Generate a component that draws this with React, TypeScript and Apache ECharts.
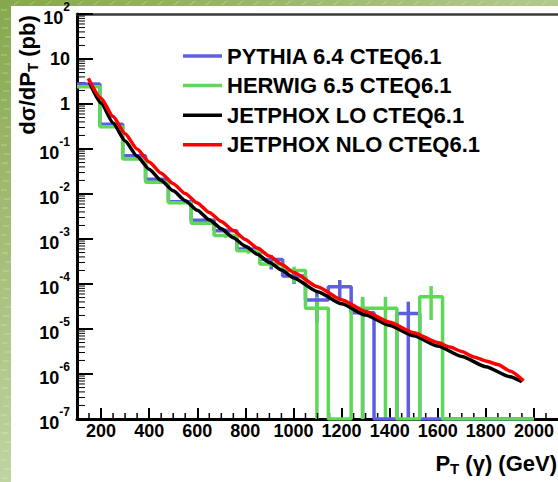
import React, { useEffect, useRef } from 'react';
import * as echarts from 'echarts';

const FONT = '"Liberation Sans", Arial, Helvetica, sans-serif';

// Histogram binning (GeV)
const binEdges = [100, 195, 290, 385, 480, 575, 670, 765, 860, 955, 1050, 1145, 1240, 1335, 1430, 1525, 1620, 1715, 1810, 1905, 2000];

// PYTHIA 6.4 CTEQ6.1 (pb/GeV)
const pythiaValues = [2.78, 0.353, 0.0711, 0.0212, 0.00676, 0.0026, 0.00153, 0.0006, 0.00035, 0.00015, 4.4e-5, 8.7e-5, 2.3e-5, 0, 2.2e-5, 0, 0, 0, 0, 0];
const pythiaErrLow = [2.66, 0.336, 0.067, 0.0199, 0.0063, 0.00238, 0.00136, 0.00051, 0.00021, 0.0001, 1.4e-5, 4.5e-5, 0, 0, 0, 0, 0, 0, 0, 0];
const pythiaErrHigh = [2.9, 0.37, 0.0752, 0.0225, 0.0072, 0.00283, 0.00171, 0.0007, 0.00044, 0.00019, 7.4e-5, 1.23e-4, 4.6e-5, 0, 4.05e-5, 0, 0, 0, 0, 0];

// HERWIG 6.5 CTEQ6.1
const herwigValues = [2.43, 0.313, 0.06, 0.0182, 0.0064, 0.00223, 0.00119, 0.00055, 0.000278, 0.0002, 2.9e-5, 0, 2.9e-5, 2.9e-5, 0, 5.2e-5, 0, 0, 0, 0];
const herwigErrLow = [2.31, 0.297, 0.0565, 0.0171, 0.0059, 0.00203, 0.00106, 0.00047, 0.00024, 0.000103, 0, 0, 0, 0, 0, 1.58e-5, 0, 0, 0, 0];
const herwigErrHigh = [2.55, 0.33, 0.0637, 0.0194, 0.0069, 0.00245, 0.00133, 0.00064, 0.00032, 0.000243, 5.2e-5, 0, 5.2e-5, 5.2e-5, 0, 9.0e-5, 0, 0, 0, 0];

// JETPHOX LO CTEQ6.1
const loPt = [152, 200, 250, 300, 350, 400, 450, 500, 550, 600, 650, 700, 750, 800, 850, 900, 950, 1000, 1100, 1200, 1300, 1400, 1500, 1600, 1700, 1800, 1900, 1950];
const loValues = [3.0, 1.047, 0.38, 0.151, 0.0692, 0.0355, 0.02, 0.01175, 0.00708, 0.00437, 0.00269, 0.0017, 0.00107, 0.000692, 0.000457, 0.000302, 0.000204, 0.000138, 6.76e-5, 3.63e-5, 2.04e-5, 1.2e-5, 7.08e-6, 4.17e-6, 2.45e-6, 1.45e-6, 8.7e-7, 6.76e-7];

// JETPHOX NLO CTEQ6.1
const nloPt = [147, 200, 250, 300, 350, 400, 450, 500, 550, 600, 650, 700, 750, 800, 850, 900, 950, 1000, 1100, 1200, 1300, 1400, 1500, 1600, 1650, 1700, 1750, 1800, 1850, 1900, 1957];
const nloValues = [3.72, 1.35, 0.525, 0.219, 0.1, 0.0513, 0.0288, 0.017, 0.0102, 0.00631, 0.00389, 0.00245, 0.00155, 0.000977, 0.000631, 0.000417, 0.000275, 0.000182, 8.7e-5, 4.47e-5, 2.45e-5, 1.41e-5, 8.3e-6, 5.0e-6, 3.98e-6, 3.16e-6, 2.4e-6, 1.95e-6, 1.62e-6, 1.17e-6, 7.1e-7];

const xTickLabels = [200, 400, 600, 800, 1000, 1200, 1400, 1600, 1800, 2000];

const X_MIN = 100;
const X_MAX = 2100;
const Y_MIN = 1e-7;
const Y_MAX = 100;

const BLUE = '#5e5ee4';
const GREEN = '#5fd858';

const seriesNames = ['PYTHIA 6.4 CTEQ6.1', 'HERWIG 6.5 CTEQ6.1', 'JETPHOX LO CTEQ6.1', 'JETPHOX NLO CTEQ6.1'];

function stepData(values: number[]) {
  const d: number[][] = [];
  values.forEach((v, i) => d.push([binEdges[i], v > 0 ? v : Y_MIN]));
  const last = values[values.length - 1];
  d.push([binEdges[binEdges.length - 1], last > 0 ? last : Y_MIN]);
  return d;
}

function errData(values: number[], lo: number[], hi: number[]) {
  const d: number[][] = [];
  values.forEach((v, i) => {
    if (v > 0) {
      d.push([(binEdges[i] + binEdges[i + 1]) / 2, lo[i] > 0 ? lo[i] : Y_MIN, hi[i]]);
    }
  });
  return d;
}

function errSeries(data: number[][], color: string) {
  return {
    type: 'custom',
    silent: true,
    data,
    encode: { x: 0, y: [1, 2] },
    renderItem: (params: any, api: any) => {
      const p1 = api.coord([api.value(0), api.value(1)]);
      const p2 = api.coord([api.value(0), api.value(2)]);
      return {
        type: 'line',
        shape: { x1: p1[0], y1: p1[1], x2: p2[0], y2: p2[1] },
        style: { stroke: color, lineWidth: 3.5 },
      };
    },
  };
}

export default function App() {
  const ref = useRef<HTMLDivElement>(null);
  useEffect(() => {
    const chart = echarts.init(ref.current!, null, { renderer: 'svg' });

    const yMinor: number[][] = [];
    for (let e = -7; e < 2; e++) {
      for (let m = 2; m <= 9; m++) yMinor.push([X_MIN, m * Math.pow(10, e)]);
    }
    const xMinor: number[][] = [];
    for (let v = 150; v < X_MAX; v += 50) {
      if (v % 200 !== 0) xMinor.push([v, Y_MIN]);
    }

    const labelStyle = { fontFamily: FONT, fontWeight: 'bold', color: '#000' };

    // faint texture dashes on the green frame (decoration)
    const texture: any[] = [];
    for (let y = 10; y < 482; y += 9) {
      texture.push({
        type: 'line',
        shape: { x1: 1 + ((y * 7) % 5), y1: y, x2: 7 + ((y * 7) % 5), y2: y },
        style: { stroke: 'rgba(255,255,255,0.35)', lineWidth: 1 },
        z: -9,
      });
    }
    for (let x = 14; x < 558; x += 16) {
      texture.push({
        type: 'line',
        shape: { x1: x, y1: 5, x2: x + 5, y2: 1 },
        style: { stroke: 'rgba(255,255,255,0.3)', lineWidth: 1 },
        z: -9,
      });
    }

    const option: any = {
      animation: false,
      backgroundColor: '#ffffff',
      grid: { left: 77, top: 14, right: -3, bottom: 63, containLabel: false },
      legend: {
        data: seriesNames,
        orient: 'vertical',
        left: 178,
        top: 39,
        icon: 'rect',
        itemWidth: 39,
        itemHeight: 3.5,
        itemGap: 5.6,
        selectedMode: false,
        textStyle: { ...labelStyle, fontSize: 22, lineHeight: 24 },
      },
      xAxis: [
        {
          type: 'value',
          min: X_MIN,
          max: X_MAX,
          axisLine: { show: true, lineStyle: { color: '#000', width: 3 } },
          axisTick: { show: true, inside: true, length: 11, lineStyle: { color: '#000', width: 2 }, customValues: xTickLabels },
          axisLabel: {
            show: true,
            customValues: xTickLabels,
            margin: 3,
            fontSize: 18,
            ...labelStyle,
            formatter: (v: number) => String(v),
          },
          splitLine: { show: false },
        },
        {
          type: 'value',
          min: X_MIN,
          max: X_MAX,
          position: 'top',
          axisLine: { show: true, lineStyle: { color: '#3a3a3a', width: 2.5 } },
          axisTick: { show: false },
          axisLabel: { show: false },
          splitLine: { show: false },
        },
      ],
      yAxis: {
        type: 'log',
        logBase: 10,
        min: Y_MIN,
        max: Y_MAX,
        interval: 1,
        splitNumber: 9,
        axisLine: { show: true, lineStyle: { color: '#000', width: 3 } },
        axisTick: { show: true, inside: true, length: 16, lineStyle: { color: '#000', width: 2 } },
        axisLabel: {
          show: true,
          margin: 7,
          showMinLabel: true,
          showMaxLabel: true,
          formatter: (v: number) => {
            const e = Math.round(Math.log10(v));
            if (e === 1) return '{p|10}';
            if (e === 0) return '{p|1}';
            return '{b|10}{s|' + e + '}';
          },
          rich: {
            b: { ...labelStyle, fontSize: 18, lineHeight: 26, verticalAlign: 'bottom' },
            s: { ...labelStyle, fontSize: 12, lineHeight: 22, verticalAlign: 'top' },
            p: { ...labelStyle, fontSize: 18, lineHeight: 18 },
          },
        },
        splitLine: { show: false },
      },
      graphic: [
        {
          type: 'rect',
          shape: { x: 0, y: 0, width: 11, height: 482 },
          style: {
            fill: new echarts.graphic.LinearGradient(0, 0, 0, 1, [
              { offset: 0, color: '#86a84d' },
              { offset: 1, color: '#c0d3a0' },
            ]),
          },
          z: -10,
        },
        {
          type: 'rect',
          shape: { x: 0, y: 0, width: 558, height: 6 },
          style: {
            fill: new echarts.graphic.LinearGradient(0, 0, 1, 0, [
              { offset: 0, color: '#86a84d' },
              { offset: 1, color: '#b2c98c' },
            ]),
          },
          z: -10,
        },
        ...texture,
        {
          type: 'text',
          x: 27,
          y: 75,
          rotation: Math.PI / 2,
          style: {
            text: '{m|dσ/dP}{t|T}{m| (pb)}',
            align: 'center',
            verticalAlign: 'middle',
            rich: {
              m: { ...labelStyle, fontSize: 22, lineHeight: 26 },
              t: { ...labelStyle, fontSize: 15, lineHeight: 15, verticalAlign: 'bottom' },
            },
          },
        },
        {
          type: 'text',
          x: 557,
          y: 463,
          style: {
            text: '{m|P}{t|T}{m| (γ) (GeV)}',
            align: 'right',
            verticalAlign: 'middle',
            rich: {
              m: { ...labelStyle, fontSize: 22, lineHeight: 26 },
              t: { ...labelStyle, fontSize: 15, lineHeight: 15, verticalAlign: 'bottom' },
            },
          },
        },
      ],
      series: [
        {
          name: seriesNames[0],
          type: 'line',
          step: 'end',
          data: stepData(pythiaValues),
          showSymbol: false,
          color: BLUE,
          itemStyle: { color: BLUE },
          lineStyle: { color: BLUE, width: 3.5 },
          clip: true,
        },
        errSeries(errData(pythiaValues, pythiaErrLow, pythiaErrHigh), BLUE),
        {
          name: seriesNames[1],
          type: 'line',
          step: 'end',
          data: stepData(herwigValues),
          showSymbol: false,
          color: GREEN,
          itemStyle: { color: GREEN },
          lineStyle: { color: GREEN, width: 3.5 },
          clip: true,
        },
        errSeries(errData(herwigValues, herwigErrLow, herwigErrHigh), GREEN),
        {
          name: seriesNames[2],
          type: 'line',
          data: loPt.map((p, i) => [p, loValues[i]]),
          showSymbol: false,
          smooth: 0.2,
          smoothMonotone: 'x',
          color: '#000000',
          itemStyle: { color: '#000000' },
          lineStyle: { color: '#000000', width: 3.5 },
        },
        {
          name: seriesNames[3],
          type: 'line',
          data: nloPt.map((p, i) => [p, nloValues[i]]),
          showSymbol: false,
          smooth: 0.2,
          smoothMonotone: 'x',
          color: '#ff0000',
          itemStyle: { color: '#ff0000' },
          lineStyle: { color: '#ff0000', width: 3.5 },
        },
        {
          type: 'custom',
          silent: true,
          data: yMinor,
          encode: { x: 0, y: 1 },
          renderItem: (params: any, api: any) => {
            const p = api.coord([api.value(0), api.value(1)]);
            return {
              type: 'line',
              shape: { x1: p[0], y1: p[1], x2: p[0] + 8, y2: p[1] },
              style: { stroke: '#000', lineWidth: 1 },
            };
          },
        },
        {
          type: 'custom',
          silent: true,
          data: xMinor,
          encode: { x: 0, y: 1 },
          renderItem: (params: any, api: any) => {
            const p = api.coord([api.value(0), api.value(1)]);
            return {
              type: 'line',
              shape: { x1: p[0], y1: p[1], x2: p[0], y2: p[1] - 6 },
              style: { stroke: '#000', lineWidth: 1.5 },
            };
          },
        },
      ],
    };

    chart.setOption(option);
    return () => chart.dispose();
  }, []);

  return (
    <div
      ref={ref}
      style={{ position: 'absolute', left: 0, top: 0, width: 558, height: 482, background: '#fff' }}
    />
  );
}
